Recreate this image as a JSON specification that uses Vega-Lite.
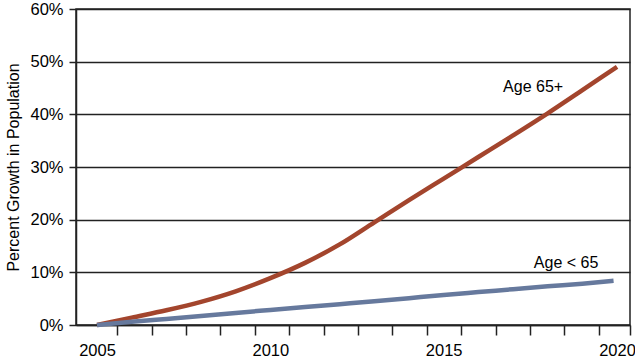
{
  "$schema": "https://vega.github.io/schema/vega-lite/v6.json",
  "width": 554,
  "height": 316,
  "autosize": "none",
  "padding": {"left": 76, "top": 9, "right": 5, "bottom": 37},
  "background": "white",
  "config": {"view": {"stroke": "#222", "strokeWidth": 1.5}, "font": "Liberation Sans"},
  "datasets": {
    "series": [
      {"year": 2005, "growth": 0, "group": "Age 65+"},
      {"year": 2006, "growth": 1.4, "group": "Age 65+"},
      {"year": 2007, "growth": 2.8, "group": "Age 65+"},
      {"year": 2008, "growth": 4.4, "group": "Age 65+"},
      {"year": 2009, "growth": 6.4, "group": "Age 65+"},
      {"year": 2010, "growth": 8.9, "group": "Age 65+"},
      {"year": 2011, "growth": 11.8, "group": "Age 65+"},
      {"year": 2012, "growth": 15.3, "group": "Age 65+"},
      {"year": 2013, "growth": 19.5, "group": "Age 65+"},
      {"year": 2014, "growth": 23.7, "group": "Age 65+"},
      {"year": 2015, "growth": 27.8, "group": "Age 65+"},
      {"year": 2016, "growth": 31.9, "group": "Age 65+"},
      {"year": 2017, "growth": 36.0, "group": "Age 65+"},
      {"year": 2018, "growth": 40.2, "group": "Age 65+"},
      {"year": 2019, "growth": 44.6, "group": "Age 65+"},
      {"year": 2020, "growth": 49.0, "group": "Age 65+"},
      {"year": 2005, "growth": 0, "group": "Age < 65"},
      {"year": 2006, "growth": 0.6, "group": "Age < 65"},
      {"year": 2007, "growth": 1.15, "group": "Age < 65"},
      {"year": 2008, "growth": 1.7, "group": "Age < 65"},
      {"year": 2009, "growth": 2.3, "group": "Age < 65"},
      {"year": 2010, "growth": 2.85, "group": "Age < 65"},
      {"year": 2011, "growth": 3.4, "group": "Age < 65"},
      {"year": 2012, "growth": 3.95, "group": "Age < 65"},
      {"year": 2013, "growth": 4.5, "group": "Age < 65"},
      {"year": 2014, "growth": 5.1, "group": "Age < 65"},
      {"year": 2015, "growth": 5.7, "group": "Age < 65"},
      {"year": 2016, "growth": 6.25, "group": "Age < 65"},
      {"year": 2017, "growth": 6.8, "group": "Age < 65"},
      {"year": 2018, "growth": 7.35, "group": "Age < 65"},
      {"year": 2019, "growth": 7.85, "group": "Age < 65"},
      {"year": 2019.9, "growth": 8.4, "group": "Age < 65"}
    ],
    "labels": [
      {"year": 2017.58, "growth": 45.1, "label": "Age 65+"},
      {"year": 2018.53, "growth": 11.8, "label": "Age < 65"}
    ]
  },
  "layer": [
    {
      "data": {"name": "series"},
      "mark": {"type": "line", "interpolate": "monotone", "strokeWidth": 4.5},
      "encoding": {
        "x": {
          "field": "year", "type": "quantitative",
          "scale": {"domain": [2004.394, 2020.374], "nice": false, "zero": false},
          "axis": {
            "values": [2005, 2010, 2015, 2020], "format": "d", "ticks": false, "grid": false,
            "domainColor": "#222", "domainWidth": 1.5, "labelFontSize": 16.5, "labelColor": "#000",
            "labelPadding": 17, "title": null, "labelFlush": false
          }
        },
        "y": {
          "field": "growth", "type": "quantitative",
          "scale": {"domain": [0, 60], "nice": false},
          "axis": {
            "values": [0, 10, 20, 30, 40, 50, 60], "labelExpr": "datum.value + '%'",
            "grid": true, "gridColor": "#222", "gridWidth": 1.5,
            "domainColor": "#222", "domainWidth": 1.5, "tickColor": "#222", "tickSize": 7, "tickWidth": 1.5,
            "labelFontSize": 16.5, "labelColor": "#000", "labelPadding": 6,
            "title": "Percent Growth in Population", "titleFontSize": 16, "titleFontWeight": "normal",
            "titleColor": "#000", "titlePadding": 8
          }
        },
        "color": {
          "field": "group", "type": "nominal",
          "scale": {"domain": ["Age 65+", "Age < 65"], "range": ["#a3452d", "#66799d"]},
          "legend": null
        }
      }
    },
    {
      "data": {"name": "labels"},
      "mark": {"type": "text", "fontSize": 16, "color": "#000", "align": "center", "baseline": "middle"},
      "encoding": {
        "x": {
          "field": "year", "type": "quantitative",
          "axis": {
            "orient": "bottom",
            "values": [2005.585, 2006.577, 2007.569, 2008.561, 2009.553, 2010.545, 2011.537, 2012.529, 2013.521, 2014.513, 2015.505, 2016.497, 2017.489, 2018.481, 2019.473, 2020.37],
            "labels": false, "ticks": true, "tickSize": 10, "tickColor": "#222", "tickWidth": 1.5,
            "domain": false, "grid": false, "title": null
          }
        },
        "y": {"field": "growth", "type": "quantitative"},
        "text": {"field": "label"}
      }
    }
  ],
  "resolve": {"axis": {"x": "independent"}}
}
